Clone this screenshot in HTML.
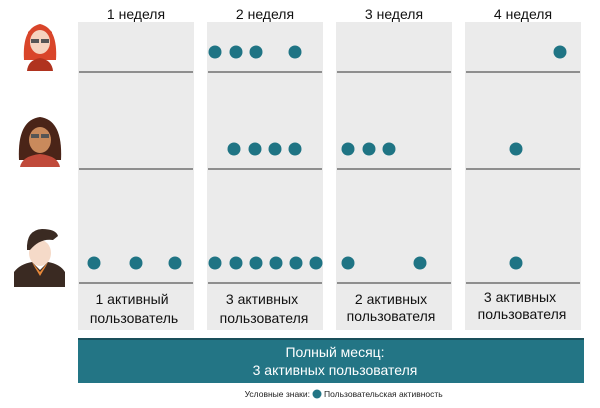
<!DOCTYPE html>
<html><head><meta charset="utf-8"><style>
body{margin:0;background:#fff;width:600px;height:408px;overflow:hidden}
svg{display:block;font-family:"Liberation Sans",sans-serif}
</style></head><body>
<svg width="600" height="408" viewBox="0 0 600 408">
<g fill="#ebebeb">
<rect x="78" y="22" width="116" height="308"/>
<rect x="207" y="22" width="116" height="308"/>
<rect x="336" y="22" width="116" height="308"/>
<rect x="465" y="22" width="116" height="308"/>
</g>
<g stroke="#707070" stroke-width="1.5">
<line x1="79" y1="72" x2="193" y2="72"/><line x1="208" y1="72" x2="322" y2="72"/><line x1="337" y1="72" x2="451" y2="72"/><line x1="466" y1="72" x2="580" y2="72"/>
<line x1="79" y1="169" x2="193" y2="169"/><line x1="208" y1="169" x2="322" y2="169"/><line x1="337" y1="169" x2="451" y2="169"/><line x1="466" y1="169" x2="580" y2="169"/>
<line x1="79" y1="283" x2="193" y2="283"/><line x1="208" y1="283" x2="322" y2="283"/><line x1="337" y1="283" x2="451" y2="283"/><line x1="466" y1="283" x2="580" y2="283"/>
</g>
<g font-size="14" fill="#111" text-anchor="middle">
<text x="136" y="19">1 неделя</text><text x="265" y="19">2 неделя</text><text x="394" y="19">3 неделя</text><text x="523" y="19">4 неделя</text>
</g>
<g fill="#1f7484">
<circle cx="215" cy="52" r="6.5"/><circle cx="236" cy="52" r="6.5"/><circle cx="256" cy="52" r="6.5"/><circle cx="295" cy="52" r="6.5"/><circle cx="560" cy="52" r="6.5"/>
<circle cx="234" cy="149" r="6.5"/><circle cx="255" cy="149" r="6.5"/><circle cx="275" cy="149" r="6.5"/><circle cx="295" cy="149" r="6.5"/>
<circle cx="348" cy="149" r="6.5"/><circle cx="369" cy="149" r="6.5"/><circle cx="389" cy="149" r="6.5"/><circle cx="516" cy="149" r="6.5"/>
<circle cx="94" cy="263" r="6.5"/><circle cx="136" cy="263" r="6.5"/><circle cx="175" cy="263" r="6.5"/>
<circle cx="215" cy="263" r="6.5"/><circle cx="236" cy="263" r="6.5"/><circle cx="256" cy="263" r="6.5"/><circle cx="276" cy="263" r="6.5"/><circle cx="296" cy="263" r="6.5"/><circle cx="316" cy="263" r="6.5"/>
<circle cx="348" cy="263" r="6.5"/><circle cx="420" cy="263" r="6.5"/><circle cx="516" cy="263" r="6.5"/>
</g>
<g font-size="14" fill="#111" text-anchor="middle">
<text x="132" y="304">1 активный</text><text x="134" y="323">пользователь</text>
<text x="262" y="304">3 активных</text><text x="264" y="323">пользователя</text>
<text x="391" y="304">2 активных</text><text x="391" y="321">пользователя</text>
<text x="520" y="302">3 активных</text><text x="522" y="319">пользователя</text>
</g>
<rect x="78" y="338" width="506" height="45" fill="#237585"/>
<rect x="78" y="338" width="506" height="2" fill="#1a4f5a"/>
<g font-size="14" fill="#fff" text-anchor="middle">
<text x="335" y="357">Полный месяц:</text><text x="335" y="375">3 активных пользователя</text>
</g>
<text x="310" y="397" font-size="8.5" fill="#222" text-anchor="end">Условные знаки:</text>
<circle cx="317" cy="394" r="4.5" fill="#237585"/>
<text x="324" y="397" font-size="8.5" fill="#222">Пользовательская активность</text>
<!-- avatars -->
<g>
<path d="M24 60 Q22 28 40 24 Q58 28 56 60 Z" fill="#d9452a"/>
<ellipse cx="40" cy="42" rx="10" ry="12" fill="#f5d3bf"/>
<path d="M28 36 Q40 22 52 36 L52 32 Q40 20 28 32Z" fill="#d9452a"/>
<rect x="31" y="39" width="8" height="4" fill="#555"/><rect x="41" y="39" width="8" height="4" fill="#555"/>
<path d="M27 71 Q28 60 40 58 Q52 60 53 71Z" fill="#b0331f"/>
</g>
<g>
<path d="M19 160 Q17 120 40 117 Q63 120 61 160 Z" fill="#4a2418"/>
<ellipse cx="40" cy="140" rx="11" ry="13" fill="#c98a5c"/>
<path d="M29 133 Q40 118 51 133 L51 128 Q40 116 29 128Z" fill="#4a2418"/>
<rect x="31" y="134" width="8" height="4" fill="#555"/><rect x="41" y="134" width="8" height="4" fill="#555"/>
<path d="M20 167 Q22 156 40 154 Q58 156 60 167Z" fill="#c04a3a"/>
</g>
<g>
<ellipse cx="40" cy="253" rx="11" ry="13" fill="#f5dac8"/>
<path d="M27 250 Q26 230 42 229 Q56 229 58 236 L53 240 Q40 238 30 250Z" fill="#3a2a22"/>
<path d="M14 287 L14 272 Q20 264 32 262 L40 270 L48 262 Q60 264 65 272 L65 287Z" fill="#3a2a22"/>
<path d="M32 262 L40 272 L48 262 L46 266 L40 276 L34 266Z" fill="#e8893a"/>
</g>
</svg>
</body></html>
